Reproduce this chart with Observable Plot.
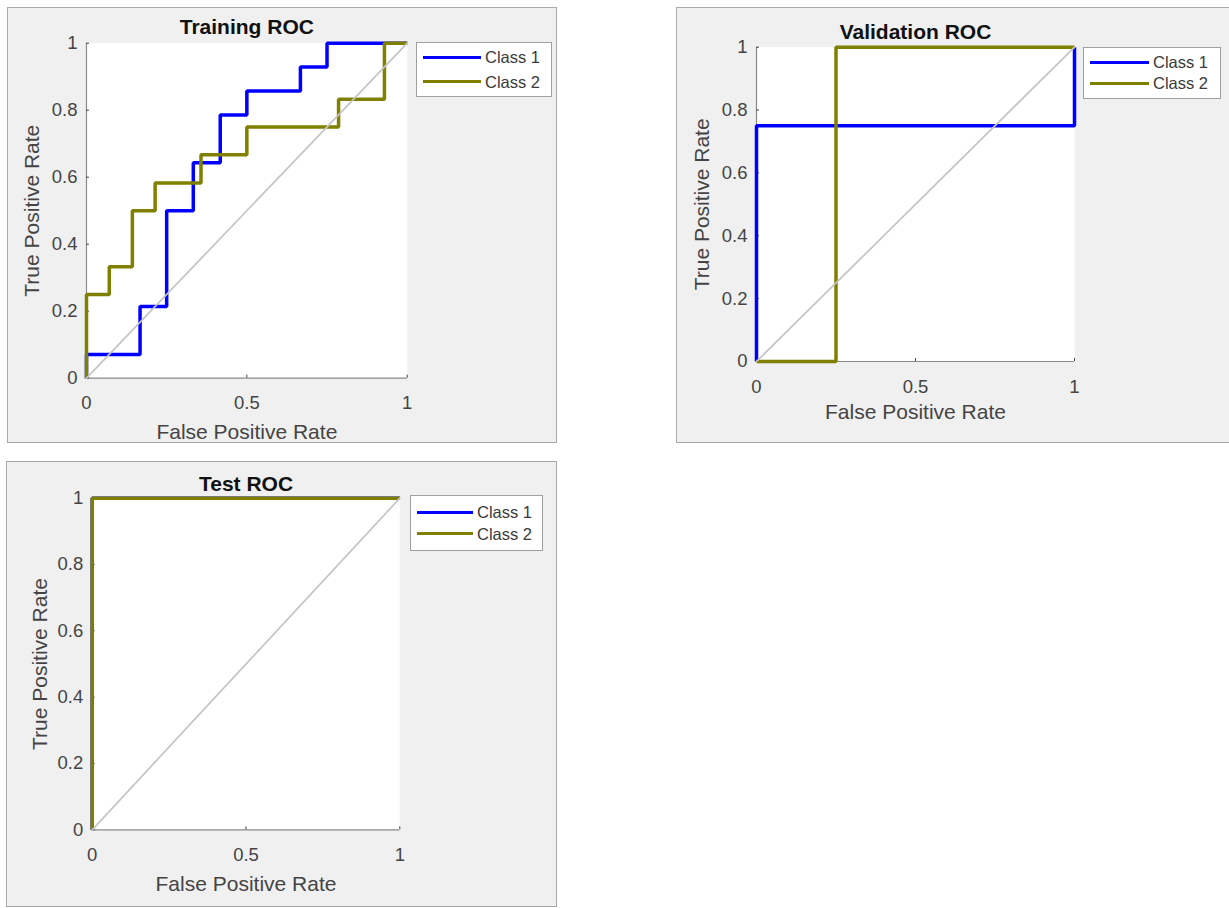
<!DOCTYPE html>
<html>
<head>
<meta charset="utf-8">
<script src="https://cdn.jsdelivr.net/npm/d3@7"></script>
<script src="https://cdn.jsdelivr.net/npm/@observablehq/plot@0.6"></script>
<style>
  html, body { margin: 0; padding: 0; background: #ffffff; }
  body { width: 1229px; height: 908px; position: relative; overflow: hidden;
         font-family: "Liberation Sans", Arial, Helvetica, sans-serif; }
  .panel { position: absolute; background: #f0f0f0; box-shadow: inset 0 0 0 1px #a9a9a9; }
  .panel svg { position: absolute; left: 0; top: 0; overflow: visible; }
  .legend { position: absolute; background: #ffffff; border: 1px solid #a0a0a0; box-sizing: border-box; }
  .swatch { position: absolute; height: 3px; }
  .ltext { position: absolute; font-size: 16.5px; line-height: 1; color: #3a3a3a; transform: translateY(-50%); white-space: nowrap; }
</style>
</head>
<body>
<script>
// ---------------- data ----------------
const classNames = ["Class 1", "Class 2"];
const classColors = ["#0000ff", "#808000"];
const xTicks = [0, 0.5, 1];
const xTickLabels = ["0", "0.5", "1"];
const yTicks = [0, 0.2, 0.4, 0.6, 0.8, 1];
const yTickLabels = ["0", "0.2", "0.4", "0.6", "0.8", "1"];
const panelTitles = ["Training ROC", "Validation ROC", "Test ROC"];
const xAxisTitle = "False Positive Rate";
const yAxisTitle = "True Positive Rate";
const chanceFpr = [0, 1];
const chanceTpr = [0, 1];

const trainClass1Fpr = [0, 0, 0.167, 0.167, 0.25, 0.25, 0.333, 0.333, 0.417, 0.417, 0.5, 0.5, 0.667, 0.667, 0.75, 0.75, 1];
const trainClass1Tpr = [0, 0.071, 0.071, 0.214, 0.214, 0.5, 0.5, 0.643, 0.643, 0.786, 0.786, 0.857, 0.857, 0.929, 0.929, 1, 1];
const trainClass2Fpr = [0, 0, 0.071, 0.071, 0.143, 0.143, 0.214, 0.214, 0.357, 0.357, 0.5, 0.5, 0.786, 0.786, 0.929, 0.929, 1];
const trainClass2Tpr = [0, 0.25, 0.25, 0.333, 0.333, 0.5, 0.5, 0.583, 0.583, 0.667, 0.667, 0.75, 0.75, 0.833, 0.833, 1, 1];

const valClass1Fpr = [0, 0, 1, 1];
const valClass1Tpr = [0, 0.75, 0.75, 1];
const valClass2Fpr = [0, 0.25, 0.25, 1];
const valClass2Tpr = [0, 0, 1, 1];

const testClass1Fpr = [0, 0, 1];
const testClass1Tpr = [0, 1, 1];
const testClass2Fpr = [0, 0, 1];
const testClass2Tpr = [0, 1, 1];

// ---------------- layout ----------------
const FONT = '"Liberation Sans", Arial, Helvetica, sans-serif';

const panels = [
  {
    title: panelTitles[0], left: 7, top: 7, width: 550, height: 436,
    frame: [79, 35.7, 399.7, 370.7], titleDy: -9.4, xTitleDy: 60.5, yTitleOff: 62,
    series: [{fpr: trainClass1Fpr, tpr: trainClass1Tpr}, {fpr: trainClass2Fpr, tpr: trainClass2Tpr}],
    legend: {left: 416, top: 41.7, width: 135.7, height: 55, lineX0: 422.7, lineX1: 481, textX: 485, rowY: [57.3, 81.7]}
  },
  {
    title: panelTitles[1], left: 676, top: 7, width: 558, height: 436,
    frame: [80, 39.7, 398, 354], titleDy: -8.4, xTitleDy: 57.7, yTitleOff: 62,
    series: [{fpr: valClass1Fpr, tpr: valClass1Tpr}, {fpr: valClass2Fpr, tpr: valClass2Tpr}],
    legend: {left: 1083.3, top: 46.7, width: 137.7, height: 52.6, lineX0: 1090, lineX1: 1149, textX: 1153, rowY: [62.3, 83.3]}
  },
  {
    title: panelTitles[2], left: 6, top: 461, width: 551, height: 446,
    frame: [85.7, 36.7, 393.3, 368.3], titleDy: -7.7, xTitleDy: 60.7, yTitleOff: 60,
    series: [{fpr: testClass1Fpr, tpr: testClass1Tpr}, {fpr: testClass2Fpr, tpr: testClass2Tpr}],
    legend: {left: 410, top: 495, width: 132.7, height: 56, lineX0: 416.7, lineX1: 473.3, textX: 477, rowY: [512.3, 533.7]}
  }
];

function makePanel(cfg) {
  const panel = document.createElement("div");
  panel.className = "panel";
  Object.assign(panel.style, {
    left: cfg.left + "px", top: cfg.top + "px",
    width: cfg.width + "px", height: cfg.height + "px"
  });

  const rows = [];
  cfg.series.forEach((s, k) => {
    s.fpr.forEach((f, i) => rows.push({cls: classNames[k], fpr: f, tpr: s.tpr[i]}));
  });
  const diag = chanceFpr.map((f, i) => ({fpr: f, tpr: chanceTpr[i]}));
  const fr = cfg.frame;

  const svg = Plot.plot({
    width: cfg.width,
    height: cfg.height,
    marginLeft: fr[0],
    marginTop: fr[1],
    marginRight: cfg.width - fr[2],
    marginBottom: cfg.height - fr[3],
    style: {background: "transparent", fontFamily: FONT, overflow: "visible"},
    x: {domain: [0, 1]},
    y: {domain: [0, 1]},
    color: {domain: classNames, range: classColors},
    marks: [
      Plot.frame({fill: "#ffffff", stroke: null}),
      Plot.ruleX([0], {stroke: "#8a8a8a", strokeWidth: 1.2}),
      Plot.ruleY([0], {stroke: "#8a8a8a", strokeWidth: 1.2}),
      Plot.axisX(xTicks, {
        tickSize: -3, tickPadding: 21, fontSize: 18.5, color: "#444444",
        tickFormat: d => xTickLabels[xTicks.indexOf(d)], label: null
      }),
      Plot.axisY(yTicks, {
        tickSize: -3, tickPadding: 12, fontSize: 18.5, color: "#444444",
        tickFormat: d => yTickLabels[yTicks.indexOf(d)], label: null
      }),
      Plot.line(rows, {
        x: "fpr", y: "tpr", z: "cls", stroke: "cls",
        strokeWidth: 3.5, strokeLinejoin: "miter", strokeLinecap: "butt"
      }),
      Plot.line(diag, {x: "fpr", y: "tpr", stroke: "#c4c4c4", strokeWidth: 1.7}),
      Plot.text([cfg.title], {
        text: d => d, frameAnchor: "top", dy: cfg.titleDy, lineAnchor: "bottom",
        textAnchor: "middle", fontSize: 21, fontWeight: "bold", fill: "#111111"
      }),
      Plot.text([xAxisTitle], {
        text: d => d, frameAnchor: "bottom", dy: cfg.xTitleDy, lineAnchor: "bottom",
        textAnchor: "middle", fontSize: 21, fill: "#444444"
      }),
      Plot.text([yAxisTitle], {
        text: d => d, frameAnchor: "left", dx: -cfg.yTitleOff, rotate: -90, lineAnchor: "top",
        textAnchor: "middle", fontSize: 21, fill: "#444444"
      })
    ]
  });
  panel.appendChild(svg);
  document.body.appendChild(panel);

  // legend
  const L = cfg.legend;
  const box = document.createElement("div");
  box.className = "legend";
  Object.assign(box.style, {
    left: L.left + "px", top: L.top + "px", width: L.width + "px", height: L.height + "px"
  });
  classNames.forEach((name, k) => {
    const sw = document.createElement("div");
    sw.className = "swatch";
    Object.assign(sw.style, {
      left: (L.lineX0 - L.left - 1) + "px",
      width: (L.lineX1 - L.lineX0) + "px",
      top: (L.rowY[k] - L.top - 1 - 1.5) + "px",
      background: classColors[k]
    });
    const tx = document.createElement("div");
    tx.className = "ltext";
    tx.textContent = name;
    Object.assign(tx.style, {
      left: (L.textX - L.left - 1) + "px",
      top: (L.rowY[k] - L.top - 1) + "px"
    });
    box.appendChild(sw);
    box.appendChild(tx);
  });
  document.body.appendChild(box);
}

panels.forEach(makePanel);
</script>
</body>
</html>
